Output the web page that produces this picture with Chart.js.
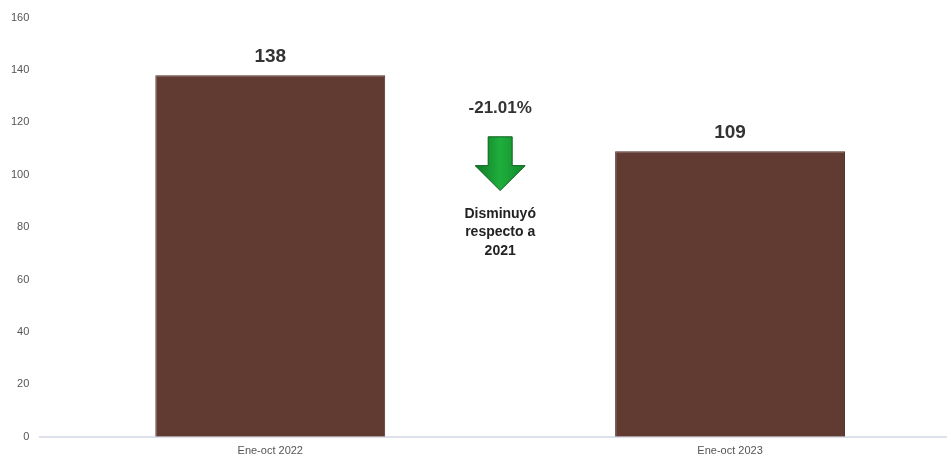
<!DOCTYPE html>
<html>
<head>
<meta charset="utf-8">
<script src="https://cdn.jsdelivr.net/npm/chart.js@4.4.0/dist/chart.umd.min.js"></script>
<style>
  html, body { margin: 0; padding: 0; background: #fff; overflow: hidden; }
  #wrap { width: 960px; height: 456px; position: relative; }
</style>
</head>
<body>
<div id="wrap"><canvas id="chart"></canvas></div>
<script>
// Data
const categories = ['Ene-oct 2022', 'Ene-oct 2023'];
const values = [138, 109];
const changeLabel = '-21.01%';
const noteLines = ['Disminuyó', 'respecto a', '2021'];

const FONT = "'Liberation Sans', Arial, sans-serif";
const BAR = '#613a32';

// value labels above bars
const valueLabels = {
  id: 'valueLabels',
  afterDatasetsDraw(chart) {
    const { ctx } = chart;
    const meta = chart.getDatasetMeta(0);
    ctx.save();
    ctx.font = `bold 19px ${FONT}`;
    ctx.fillStyle = '#333';
    ctx.textAlign = 'center';
    ctx.textBaseline = 'bottom';
    meta.data.forEach((bar, i) => {
      ctx.fillText(values[i], bar.x, bar.y - 9);
    });
    ctx.restore();
  }
};

// green down arrow + note between bars
const changeNote = {
  id: 'changeNote',
  afterDatasetsDraw(chart) {
    const { ctx, scales: { x, y } } = chart;
    const cx = (x.getPixelForValue(0) + x.getPixelForValue(1)) / 2;
    ctx.save();
    ctx.fillStyle = '#333';
    ctx.textAlign = 'center';
    ctx.textBaseline = 'middle';
    ctx.font = `bold 17px ${FONT}`;
    ctx.fillText(changeLabel, cx, y.getPixelForValue(125.5));

    const top = y.getPixelForValue(114.5);
    const neck = y.getPixelForValue(103.5);
    const tip = y.getPixelForValue(94);
    const g = ctx.createLinearGradient(cx - 25, 0, cx + 25, 0);
    g.addColorStop(0, '#0f7a25');
    g.addColorStop(0.5, '#1fae3c');
    g.addColorStop(1, '#118a2b');
    ctx.beginPath();
    ctx.moveTo(cx - 12, top);
    ctx.lineTo(cx + 12, top);
    ctx.lineTo(cx + 12, neck);
    ctx.lineTo(cx + 25, neck);
    ctx.lineTo(cx, tip);
    ctx.lineTo(cx - 25, neck);
    ctx.lineTo(cx - 12, neck);
    ctx.closePath();
    ctx.fillStyle = g;
    ctx.fill();
    ctx.strokeStyle = '#0d5e1d';
    ctx.lineWidth = 1;
    ctx.stroke();

    ctx.fillStyle = '#222';
    ctx.font = `bold 14px ${FONT}`;
    noteLines.forEach((t, i) => {
      ctx.fillText(t, cx, y.getPixelForValue(85 - i * 7));
    });
    ctx.restore();
  }
};

new Chart(document.getElementById('chart'), {
  type: 'bar',
  data: {
    labels: categories,
    datasets: [{
      data: values,
      backgroundColor: BAR,
      borderColor: '#4e2c26',
      borderWidth: 1,
      barPercentage: 0.5,
      categoryPercentage: 1
    }]
  },
  options: {
    responsive: true,
    maintainAspectRatio: false,
    animation: false,
    layout: { padding: { top: 17, left: 0, right: 0, bottom: -10 } },
    plugins: { legend: { display: false }, tooltip: { enabled: false } },
    scales: {
      x: {
        grid: { display: false, drawTicks: false },
        border: { display: true, color: '#dde2ea', width: 2 },
        ticks: { color: '#555', font: { family: FONT, size: 11 }, padding: 8 }
      },
      y: {
        min: 0,
        max: 160,
        grid: { display: false, drawTicks: false },
        border: { display: false },
        ticks: { stepSize: 20, color: '#555', font: { family: FONT, size: 11 }, padding: 11 }
      }
    }
  },
  plugins: [valueLabels, changeNote]
});
</script>
</body>
</html>
